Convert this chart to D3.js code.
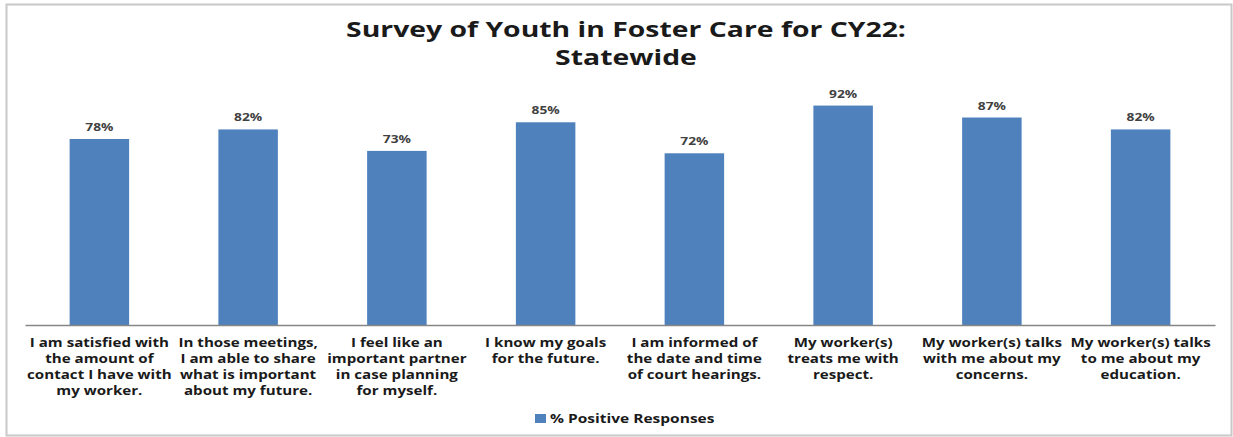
<!DOCTYPE html>
<html>
<head>
<meta charset="utf-8">
<script src="https://cdn.jsdelivr.net/npm/d3@7"></script>
<style>
  html, body { margin: 0; padding: 0; background: #fff; }
  svg { display: block; }
  text { font-family: "Open Sans", Lato, sans-serif; font-weight: bold; }
</style>
</head>
<body>
<svg id="chart" width="1233" height="437"></svg>
<script>
// Survey statements, one entry per bar, pre-broken into the lines shown under the axis
const categoryLines = [
  ["I am satisfied with", "the amount of", "contact I have with", "my worker."],
  ["In those meetings,", "I am able to share", "what is important", "about my future."],
  ["I feel like an", "important partner", "in case planning", "for myself."],
  ["I know my goals", "for the future."],
  ["I am informed of", "the date and time", "of court hearings."],
  ["My worker(s)", "treats me with", "respect."],
  ["My worker(s) talks", "with me about my", "concerns."],
  ["My worker(s) talks", "to me about my", "education."]
];
const categories = categoryLines.map(l => l.join(" "));
const positiveResponses = [78, 82, 73, 85, 72, 92, 87, 82];
const seriesName = "% Positive Responses";
const titleLines = ["Survey of Youth in Foster Care for CY22:", "Statewide"];

const svg = d3.select("#chart");

// widen glyphs horizontally to the chart's broad lettering
function widen(sel, factor) {
  sel.each(function () {
    const w = this.getComputedTextLength();
    d3.select(this)
      .attr("textLength", w * factor)
      .attr("lengthAdjust", "spacingAndGlyphs");
  });
}

// chart area frame
svg.append("rect")
  .attr("x", 6.5).attr("y", 4.5)
  .attr("width", 1225).attr("height", 431)
  .attr("fill", "#fff")
  .attr("stroke", "#c8c8c8")
  .attr("stroke-width", 2);

const plot = { left: 25, right: 1215, top: 86.5, bottom: 325 };

const x = d3.scaleBand()
  .domain(categories)
  .range([plot.left, plot.right])
  .paddingInner(0.6)
  .paddingOuter(0.3);

const y = d3.scaleLinear()
  .domain([0, 100])
  .range([plot.bottom, plot.top]);

// title
svg.append("g")
  .selectAll("text")
  .data(titleLines)
  .join("text")
  .attr("x", 626)
  .attr("y", (d, i) => 37 + i * 28)
  .attr("text-anchor", "middle")
  .attr("fill", "#1a1a1a")
  .style("font-size", "21px")
  .text(d => d)
  .call(widen, 1.35);

// bars
svg.append("g")
  .selectAll("rect")
  .data(positiveResponses)
  .join("rect")
  .attr("x", (d, i) => x(categories[i]))
  .attr("y", d => y(d))
  .attr("width", x.bandwidth())
  .attr("height", d => y(0) - y(d))
  .attr("fill", "#4f81bd");

// value labels
svg.append("g")
  .selectAll("text")
  .data(positiveResponses)
  .join("text")
  .attr("x", (d, i) => x(categories[i]) + x.bandwidth() / 2)
  .attr("y", d => y(d) - 8)
  .attr("text-anchor", "middle")
  .attr("fill", "#404040")
  .style("font-size", "11px")
  .text(d => d + "%")
  .call(widen, 1.25);

// category axis
const xAxis = d3.axisBottom(x).tickSize(0).tickFormat("");
const axisG = svg.append("g")
  .attr("transform", `translate(0,${plot.bottom})`)
  .call(xAxis);
axisG.select(".domain").attr("stroke", "#868686").attr("stroke-width", 1.5);

// wrapped category labels, one text per line
axisG.selectAll(".tick").each(function (d, i) {
  d3.select(this).selectAll("text.cat")
    .data(categoryLines[i])
    .join("text")
    .attr("class", "cat")
    .attr("x", 0)
    .attr("y", (l, j) => 22 + j * 16)
    .attr("text-anchor", "middle")
    .attr("fill", "#1a1a1a")
    .style("font-size", "12.5px")
    .text(l => l)
    .call(widen, 1.21);
});

// legend
const legend = svg.append("g");
legend.append("rect")
  .attr("x", 535).attr("y", 414)
  .attr("width", 11).attr("height", 9)
  .attr("fill", "#4f81bd");
legend.append("text")
  .attr("x", 550).attr("y", 423)
  .attr("fill", "#1a1a1a")
  .style("font-size", "12.5px")
  .text(seriesName)
  .call(widen, 1.24);
</script>
</body>
</html>
